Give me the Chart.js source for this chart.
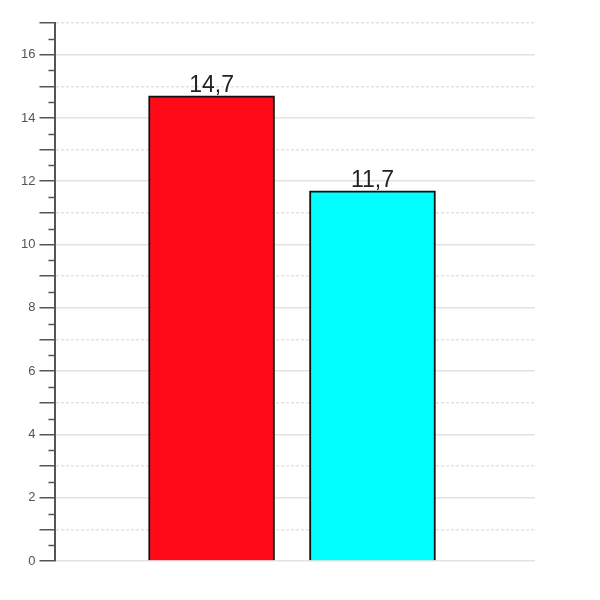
<!DOCTYPE html>
<html>
<head>
<meta charset="utf-8">
<script src="https://cdn.jsdelivr.net/npm/chart.js@4.4.0/dist/chart.umd.min.js"></script>
<style>
  html, body { margin: 0; padding: 0; background: #fff; }
  #wrap { width: 600px; height: 600px; }
</style>
</head>
<body>
<div id="wrap"><canvas id="chartBars" width="600" height="600"></canvas></div>
<script>
// values
const positions = [1, 2];
const values = [14.7, 11.7];
const valueLabels = ['14,7', '11,7'];
const barColors = ['#ff0a16', '#00ffff'];

const yMin = 0;
const yMax = 17;

// small ticks every 0.5 + value labels above the bars
const extras = {
    id: 'extras',
    afterDraw(chart) {
        const c = chart.ctx;
        const y = chart.scales.y;
        const left = chart.chartArea.left;
        c.save();
        c.strokeStyle = '#555';
        c.lineWidth = 1.5;
        for (let v = yMin + 0.5; v < yMax; v += 1) {
            const py = Math.round(y.getPixelForValue(v)) + 0.5;
            c.beginPath();
            c.moveTo(left - 7, py);
            c.lineTo(left, py);
            c.stroke();
        }
        const meta = chart.getDatasetMeta(0);
        c.fillStyle = '#222';
        c.font = '23px "Liberation Sans", Arial, sans-serif';
        c.textAlign = 'center';
        c.textBaseline = 'alphabetic';
        meta.data.forEach((bar, i) => {
            c.fillText(valueLabels[i], bar.x, bar.y - 4);
        });
        c.restore();
    }
};

new Chart(document.getElementById('chartBars'), {
    type: 'bar',
    data: {
        datasets: [{
            data: positions.map((p, i) => ({ x: p, y: values[i] })),
            backgroundColor: barColors,
            borderColor: '#111',
            borderWidth: 2,
            barThickness: 126
        }]
    },
    options: {
        responsive: false,
        animation: false,
        layout: {
            padding: { left: 17, right: 65, top: 23, bottom: 39 }
        },
        plugins: {
            legend: { display: false },
            tooltip: { enabled: false }
        },
        scales: {
            x: {
                type: 'linear',
                min: 0.03,
                max: 3.01,
                offset: false,
                display: false
            },
            y: {
                min: yMin,
                max: yMax,
                ticks: {
                    stepSize: 1,
                    padding: 4,
                    color: '#555',
                    font: { size: 13, family: '"Liberation Sans", Arial, sans-serif' },
                    callback: v => (v % 2 === 0 ? v : '')
                },
                grid: {
                    color: ctx => (ctx.tick && ctx.tick.value % 2 === 0 ? '#e2e2e2' : '#e4e4e4'),
                    lineWidth: 1.5,
                    tickColor: '#555',
                    tickLength: 16,
                    tickWidth: 1.5
                },
                border: {
                    color: '#555',
                    width: 2,
                    dash: ctx => (ctx.tick && ctx.tick.value % 2 === 1 ? [3, 2] : [])
                }
            }
        }
    },
    plugins: [extras]
});
</script>
</body>
</html>
